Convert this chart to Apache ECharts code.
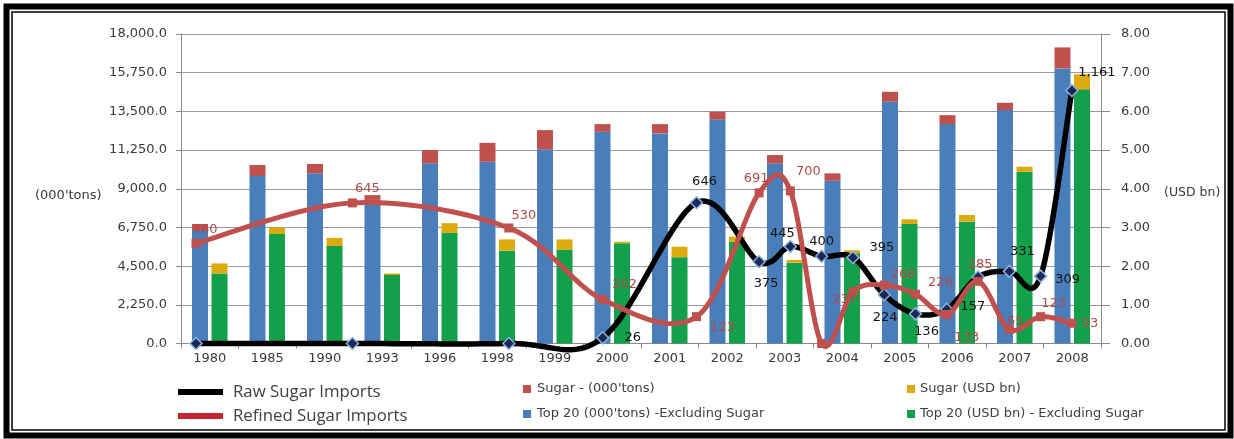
<!DOCTYPE html>
<html>
<head>
<meta charset="utf-8">
<title>Sugar and Top 20 imports</title>
<script src="https://cdn.jsdelivr.net/npm/echarts@6/dist/echarts.min.js"></script>
<style>
  html, body { margin: 0; padding: 0; background: #fff; }
  #chart { width: 1234px; height: 439px; }
</style>
</head>
<body>
<div id="chart"></div>
<script>
// Category years for the bars
const years = ['1980', '1985', '1990', '1993', '1996', '1998', '1999', '2000',
  '2001', '2002', '2003', '2004', '2005', '2006', '2007', '2008'];

// Stacked bars, left axis (000'tons)
const top20Tons = [6600, 9740, 9900, 8350, 10480, 10570, 11290, 12310,
  12220, 13035, 10480, 9465, 14060, 12760, 13575, 16000];
const sugarTons = [350, 640, 540, 280, 770, 1100, 1120, 450,
  540, 440, 480, 430, 580, 520, 425, 1220];

// Stacked bars, right axis (USD bn)
const top20Usd = [1.81, 2.83, 2.52, 1.77, 2.86, 2.40, 2.43, 2.59,
  2.23, 2.63, 2.09, 2.33, 3.09, 3.15, 4.44, 6.57];
const sugarUsd = [0.26, 0.17, 0.21, 0.04, 0.25, 0.29, 0.26, 0.04,
  0.27, 0.13, 0.07, 0.08, 0.12, 0.17, 0.13, 0.39];

// Import lines, plotted against the calendar year
const lineYears = [1980, 1985, 1990, 1993, 1996, 1998, 1999, 2000,
  2001, 2002, 2003, 2004, 2005, 2006, 2007, 2008];
const rawImports = [0, 0, 0, 26, 646, 375, 445, 400,
  395, 224, 136, 157, 305, 331, 309, 1161];
const refinedImports = [460, 645, 530, 202, 123, 691, 700, 0,
  237, 268, 226, 133, 285, 65, 123, 93];

// Axis tick ranges
const tonsAxis = { min: 0, max: 18000, interval: 2250 };
const usdAxis = { min: 0, max: 8, interval: 1 };

// Where each point's value label sits relative to the point (null = no label)
const rawLabelShift = [null, null, null, [30, 0], [8, -21], [7, 22], [-8, -13], [0, -15],
  [29, -10], [1, 23], [11, 18], [26, -3], null, [13, -20], [27, 3], [25, -18]];
const refinedLabelShift = [[9, -14], [15, -14], [15, -12], [22, -15], [26, 11], [-3, -14], [18, -19], null,
  [-8, 8], [19, -10], [25, -12], [20, 23], [2, -17], [6, -8], [13, -13], [18, 0]];

const axisFont = 'DejaVu Sans';
const textColor = '#3a3a3a';

function withThousands(v, digits) {
  const s = v.toFixed(digits);
  const parts = s.split('.');
  parts[0] = parts[0].replace(/\B(?=(\d{3})+(?!\d))/g, ',');
  return parts.join('.');
}

// Markers and value labels for an import line
function linePoints(values, shifts, color) {
  return values.map((v, i) => {
    const shift = shifts[i];
    return {
      value: [lineYears[i], v],
      label: shift
        ? { show: true, position: 'inside', offset: shift, color: color }
        : { show: false }
    };
  });
}

// Spreadsheet-style smoothed curve (Catmull-Rom through the points, free to overshoot)
function smoothCurve(values, color, width, z) {
  return {
    type: 'custom',
    xAxisIndex: 1, yAxisIndex: 2,
    silent: true, clip: false, z: z,
    data: values.map((v, i) => [lineYears[i], v]),
    renderItem: function (params, api) {
      if (params.dataIndex !== 0) return null;
      const pts = values.map((v, i) => api.coord([lineYears[i], v]));
      const n = pts.length;
      const out = [pts[0]];
      for (let i = 0; i < n - 1; i++) {
        const p0 = pts[Math.max(i - 1, 0)];
        const p1 = pts[i];
        const p2 = pts[i + 1];
        const p3 = pts[Math.min(i + 2, n - 1)];
        const c1 = [p1[0] + (p2[0] - p0[0]) / 6, p1[1] + (p2[1] - p0[1]) / 6];
        const c2 = [p2[0] - (p3[0] - p1[0]) / 6, p2[1] - (p3[1] - p1[1]) / 6];
        const steps = 24;
        for (let s = 1; s <= steps; s++) {
          const t = s / steps, u = 1 - t;
          const a = u * u * u, b = 3 * u * u * t, c = 3 * u * t * t, d = t * t * t;
          out.push([
            a * p1[0] + b * c1[0] + c * c2[0] + d * p2[0],
            a * p1[1] + b * c1[1] + c * c2[1] + d * p2[1]
          ]);
        }
      }
      return {
        type: 'polyline',
        shape: { points: out },
        style: { stroke: color, lineWidth: width, fill: null, lineJoin: 'round', lineCap: 'round' }
      };
    }
  };
}

const chart = echarts.init(document.getElementById('chart'), null, { renderer: 'canvas' });

const option = {
  backgroundColor: '#ffffff',
  animation: false,
  grid: { left: 181, right: 133, top: 34, bottom: 95.5, containLabel: false },
  xAxis: [
    {
      type: 'category',
      data: years,
      boundaryGap: true,
      axisLine: { show: true, lineStyle: { color: '#8a8a8a', width: 1 } },
      axisTick: { show: true, length: 5, lineStyle: { color: '#8a8a8a' } },
      axisLabel: { color: textColor, fontFamily: axisFont, fontSize: 13, margin: 9 },
      splitLine: { show: false }
    },
    {
      type: 'value',
      min: 1979.52,
      max: 2008.93,
      show: false
    }
  ],
  yAxis: [
    {
      type: 'value',
      position: 'left',
      min: tonsAxis.min, max: tonsAxis.max, interval: tonsAxis.interval,
      axisLine: { show: true, lineStyle: { color: '#8a8a8a' } },
      axisTick: { show: true, length: 5, lineStyle: { color: '#8a8a8a' } },
      axisLabel: {
        color: textColor, fontFamily: axisFont, fontSize: 13, margin: 14,
        formatter: v => withThousands(v, 1)
      },
      splitLine: { show: true, lineStyle: { color: '#9a9a9a', width: 1 } }
    },
    {
      type: 'value',
      position: 'right',
      min: usdAxis.min, max: usdAxis.max, interval: usdAxis.interval,
      axisLine: { show: true, lineStyle: { color: '#8a8a8a' } },
      axisTick: { show: true, length: 9, lineStyle: { color: '#8a8a8a' } },
      axisLabel: {
        color: textColor, fontFamily: axisFont, fontSize: 13, margin: 20,
        formatter: v => v.toFixed(2)
      },
      splitLine: { show: false }
    },
    {
      type: 'value',
      min: 0,
      max: 1420,
      show: false
    }
  ],
  legend: [
    {
      data: [
        { name: 'Raw Sugar Imports', itemStyle: { color: '#000000', borderWidth: 0 } },
        { name: 'Refined Sugar Imports', itemStyle: { color: '#c0282d', borderWidth: 0 } }
      ],
      orient: 'vertical',
      left: 178, top: 382, padding: 0,
      icon: 'rect', itemWidth: 45, itemHeight: 6, itemGap: 4,
      selectedMode: false,
      textStyle: { fontFamily: 'Open Sans', fontSize: 16.8, color: '#404040', lineHeight: 20, padding: [0, 0, 0, 5] }
    },
    {
      data: ["Sugar - (000'tons)", "Top 20 (000'tons) -Excluding Sugar"],
      orient: 'vertical',
      left: 523, top: 379, padding: 0,
      icon: 'rect', itemWidth: 8, itemHeight: 8, itemGap: 5,
      selectedMode: false,
      textStyle: { fontFamily: axisFont, fontSize: 13, color: '#404040', lineHeight: 20, padding: [0, 0, 0, 1] }
    },
    {
      data: ['Sugar (USD bn)', 'Top 20 (USD bn) - Excluding Sugar'],
      orient: 'vertical',
      left: 907, top: 379, padding: 0,
      icon: 'rect', itemWidth: 8, itemHeight: 8, itemGap: 5,
      selectedMode: false,
      textStyle: { fontFamily: axisFont, fontSize: 13, color: '#404040', lineHeight: 20, padding: [0, 0, 0, 0] }
    }
  ],
  graphic: [
    // double frame round the chart
    { type: 'rect', shape: { x: 6.5, y: 6.5, width: 1224, height: 429 }, style: { fill: 'none', stroke: '#000', lineWidth: 6 }, silent: true, z: 100 },
    { type: 'rect', shape: { x: 12, y: 12, width: 1213, height: 418 }, style: { fill: 'none', stroke: '#000', lineWidth: 1.5 }, silent: true, z: 100 },
    { type: 'text', left: 35, top: 189, style: { text: "(000'tons)", fontFamily: axisFont, fontSize: 13, fill: textColor } },
    { type: 'text', left: 1164, top: 186, style: { text: '(USD bn)', fontFamily: axisFont, fontSize: 12.5, fill: textColor } }
  ],
  series: [
    {
      name: "Top 20 (000'tons) -Excluding Sugar",
      type: 'bar', stack: 'tons', xAxisIndex: 0, yAxisIndex: 0,
      barWidth: 16, barGap: '22%',
      itemStyle: { color: '#4a7ebb' },
      data: top20Tons
    },
    {
      name: "Sugar - (000'tons)",
      type: 'bar', stack: 'tons', xAxisIndex: 0, yAxisIndex: 0,
      barWidth: 16, barGap: '22%',
      itemStyle: { color: '#c0504d' },
      data: sugarTons
    },
    {
      name: 'Top 20 (USD bn) - Excluding Sugar',
      type: 'bar', stack: 'usd', xAxisIndex: 0, yAxisIndex: 1,
      barWidth: 16, barGap: '22%',
      itemStyle: { color: '#13a04a' },
      data: top20Usd
    },
    {
      name: 'Sugar (USD bn)',
      type: 'bar', stack: 'usd', xAxisIndex: 0, yAxisIndex: 1,
      barWidth: 16, barGap: '22%',
      itemStyle: { color: '#dcaa0c' },
      data: sugarUsd
    },
    smoothCurve(rawImports, '#000000', 5.5, 3),
    {
      name: 'Raw Sugar Imports',
      type: 'line', xAxisIndex: 1, yAxisIndex: 2,
      clip: false, z: 4,
      symbol: 'diamond', symbolSize: 12, showAllSymbol: true,
      lineStyle: { opacity: 0 },
      itemStyle: { color: '#1b2a55', borderColor: '#8db3e2', borderWidth: 1.5 },
      label: { fontFamily: axisFont, fontSize: 13, formatter: p => withThousands(p.value[1], 0) },
      data: linePoints(rawImports, rawLabelShift, '#111111')
    },
    smoothCurve(refinedImports, '#c0504d', 5, 5),
    {
      name: 'Refined Sugar Imports',
      type: 'line', xAxisIndex: 1, yAxisIndex: 2,
      clip: false, z: 6,
      symbol: 'rect', symbolSize: 9, showAllSymbol: true,
      lineStyle: { opacity: 0 },
      itemStyle: { color: '#c0504d' },
      label: { fontFamily: axisFont, fontSize: 13, formatter: p => withThousands(p.value[1], 0) },
      data: linePoints(refinedImports, refinedLabelShift, '#b04a48')
    }
  ]
};

chart.setOption(option);
</script>
</body>
</html>
